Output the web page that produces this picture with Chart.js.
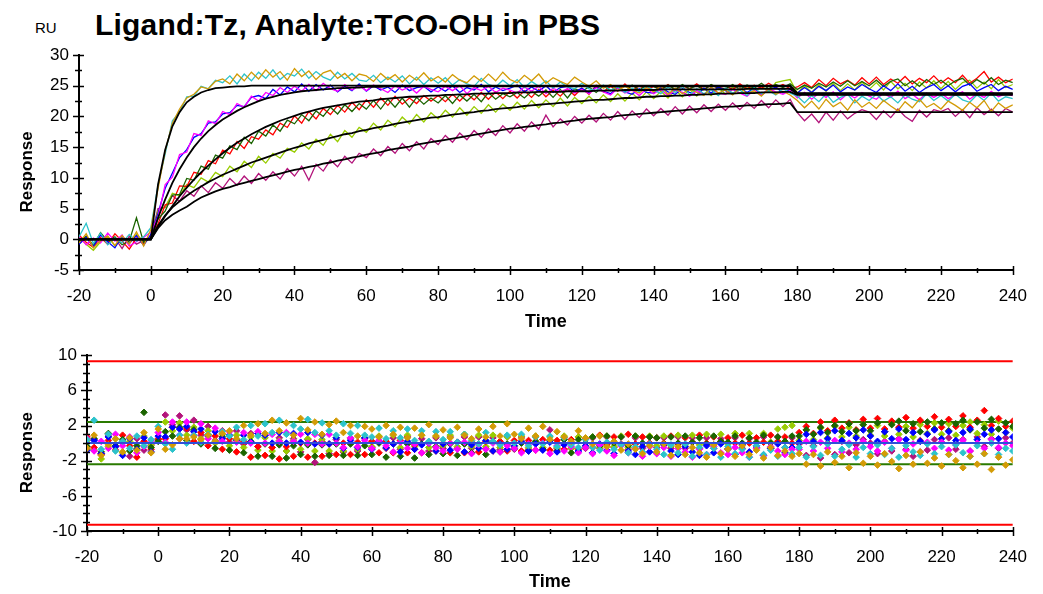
<!DOCTYPE html>
<html>
<head>
<meta charset="utf-8">
<script src="https://cdn.jsdelivr.net/npm/chart.js@4.4.1/dist/chart.umd.min.js"></script>
<style>
    body { margin: 0; background: #fff; width: 1043px; height: 594px; position: relative; overflow: hidden;
           font-family: "Liberation Sans", Arial, sans-serif; color: #000; }
    #ru { position: absolute; left: 35px; top: 20px; font-size: 15px; line-height: 15px; }
    #titulo { position: absolute; left: 95px; top: 10px; font-size: 30px; line-height: 30px; font-weight: bold; white-space: nowrap; letter-spacing: 0.2px; }
    #sensograma { position: absolute; left: 0; top: 0; }
    #residuos { position: absolute; left: 0; top: 335px; }
</style>
</head>
<body>
<div id="ru">RU</div>
<div id="titulo">Ligand:Tz, Analyte:TCO-OH in PBS</div>
<canvas id="sensograma" width="1043" height="335"></canvas>
<canvas id="residuos" width="1043" height="259"></canvas>
<script>
// Tiempos de muestreo (s)
const times = [-20,-18,-16,-14,-12,-10,-8,-6,-4,-2,
    0,2,4,6,8,10,12,14,16,18,
    20,22,24,26,28,30,32,34,36,38,
    40,42,44,46,48,50,52,54,56,58,
    60,62,64,66,68,70,72,74,76,78,
    80,82,84,86,88,90,92,94,96,98,
    100,102,104,106,108,110,112,114,116,118,
    120,122,124,126,128,130,132,134,136,138,
    140,142,144,146,148,150,152,154,156,158,
    160,162,164,166,168,170,172,174,176,178,
    180,182,184,186,188,190,192,194,196,198,
    200,202,204,206,208,210,212,214,216,218,
    220,222,224,226,228,230,232,234,236,238,240];

const goldData = [-0.6,0.9,-1.4,-0.2,0.5,-1.0,0.6,-0.8,1.2,-1.1,
    1.6,8.2,14.4,18.9,21.2,23.0,23.6,24.8,24.5,25.7,
    26.1,25.3,26.9,25.8,27.2,26.1,27.6,26.4,27.3,25.9,
    27.8,26.5,27.4,26.0,27.1,27.5,26.2,27.0,25.8,26.9,
    26.6,25.7,27.0,26.0,26.8,25.6,26.7,25.9,27.1,25.8,
    26.5,25.6,26.8,25.9,25.5,26.6,25.7,26.9,25.8,27.2,
    26.0,25.5,26.7,25.8,26.9,25.4,26.3,25.7,25.2,26.4,
    25.6,24.9,25.8,24.6,25.2,24.2,24.9,24.3,23.8,24.7,
    24.0,24.9,23.6,24.6,23.7,24.5,23.9,23.4,24.8,23.8,
    24.3,23.5,24.7,23.7,24.2,23.3,24.5,23.6,24.1,23.5,
    22.6,21.4,22.5,21.2,22.8,21.6,22.3,21.0,22.7,21.5,
    22.3,21.3,22.6,21.7,20.9,22.4,21.4,22.8,21.5,22.1,
    21.2,22.5,21.8,21.0,22.3,21.4,22.6,20.8,22.2,21.3,21.9];
const cyanData = [0.4,2.6,-0.7,1.0,-0.9,0.2,-0.6,0.8,-0.3,0.4,
    1.9,8.8,13.9,19.3,20.7,23.2,23.3,24.9,24.5,25.9,
    25.5,26.6,25.3,26.9,25.8,27.2,26.2,27.6,26.0,27.0,
    26.6,27.7,26.2,27.3,26.4,25.9,27.2,26.1,27.0,25.9,
    25.7,26.7,25.5,26.4,25.6,26.6,25.3,26.4,25.2,26.3,
    25.4,26.3,25.1,26.0,25.3,24.9,26.2,25.2,24.8,25.9,
    25.0,26.0,24.7,25.7,24.9,25.8,24.6,25.6,24.8,24.5,
    25.4,24.5,24.2,25.1,24.3,24.8,23.9,24.6,24.0,24.9,
    24.3,23.7,24.8,23.9,24.9,23.5,24.5,23.7,24.4,23.4,
    24.6,23.8,24.3,23.4,24.7,23.7,24.2,23.5,24.5,23.8,
    23.3,22.2,23.4,22.4,23.7,22.3,23.1,23.6,22.2,23.3,
    22.6,23.6,22.5,23.2,22.2,23.5,22.8,22.4,23.7,22.6,
    23.4,22.5,23.6,22.7,22.3,23.5,22.6,23.8,22.5,23.2,22.9];
const blueData = [-0.8,0.3,-1.2,0.7,-0.4,-1.4,0.5,-0.7,0.6,-1.0,
    0.8,4.2,8.3,10.8,13.3,14.6,16.6,17.2,18.9,19.1,
    20.4,20.6,21.8,21.6,23.1,23.4,22.9,24.4,23.5,24.8,
    24.0,25.3,24.1,25.2,24.3,25.1,24.0,24.9,24.2,25.3,
    24.1,25.0,24.3,24.8,23.9,25.1,24.2,24.7,24.9,24.0,
    24.8,24.1,25.0,23.9,24.7,24.3,25.2,24.0,24.8,24.2,
    24.6,25.1,24.0,24.8,24.1,25.0,23.9,24.7,24.9,24.0,
    24.6,23.8,24.8,24.1,23.7,24.7,24.0,23.6,24.5,23.9,
    23.8,24.7,24.0,23.6,24.5,23.9,23.5,24.6,23.8,24.8,
    24.2,23.6,24.7,23.9,24.6,23.5,24.3,24.8,23.8,24.4,
    23.8,24.7,23.9,24.9,24.2,25.1,24.0,24.8,24.3,25.2,
    24.5,23.9,25.0,24.2,25.3,24.1,24.9,23.9,24.7,25.2,
    24.2,25.0,24.0,24.9,25.3,24.1,24.7,25.2,24.2,24.9,24.4];
const magentaData = [0.5,-0.9,0.2,-0.6,1.0,-0.3,0.7,-1.1,-0.4,0.3,
    1.2,3.6,8.9,10.1,13.8,14.2,17.2,16.9,19.3,18.8,
    20.8,20.3,22.1,21.5,23.3,22.5,23.9,23.4,24.7,23.9,
    24.9,24.1,25.2,24.2,25.4,24.5,24.1,25.2,24.3,25.0,
    24.2,25.1,24.5,23.9,25.0,24.3,24.8,23.8,24.9,24.4,
    24.0,24.9,24.2,25.0,23.7,24.7,24.2,24.9,23.9,24.6,
    24.3,23.8,24.8,24.1,24.9,23.7,24.6,24.0,24.5,23.8,
    24.4,23.7,24.7,24.0,23.5,24.6,23.8,24.3,23.4,24.5,
    23.7,24.4,23.4,24.3,23.9,23.3,24.2,23.6,24.5,23.8,
    23.6,24.4,23.8,23.3,24.3,23.5,24.5,24.0,23.6,24.2,
    23.0,23.9,22.8,23.8,23.1,24.0,22.7,23.7,23.0,23.9,
    23.3,22.8,23.8,23.1,24.1,22.9,23.6,22.7,23.8,23.1,
    23.8,22.9,23.5,24.0,22.8,23.7,23.1,24.1,23.2,23.7,23.4];
const redData = [0.7,-0.5,-1.3,0.3,-0.8,0.9,-0.3,-1.6,0.2,-0.7,
    0.4,2.5,5.6,5.9,8.7,8.6,10.9,10.6,12.8,12.3,
    14.5,13.9,15.9,14.8,16.7,16.3,17.8,17.0,18.9,18.2,
    20.1,18.9,20.8,19.6,21.3,20.3,21.8,20.7,22.3,21.1,
    22.7,21.5,23.0,21.8,23.3,22.0,23.0,22.1,23.4,22.5,
    23.4,22.4,23.6,22.5,23.7,22.7,23.9,22.8,24.0,22.9,
    24.1,23.0,24.2,23.1,24.4,23.2,24.3,23.3,24.5,23.4,
    24.6,23.6,25.1,24.0,24.9,24.1,25.3,24.2,25.0,24.3,
    24.9,24.4,25.2,24.3,25.0,24.5,25.3,24.4,25.1,24.6,
    25.0,24.4,25.3,24.5,25.1,24.6,25.4,24.7,25.2,24.5,
    24.8,25.5,24.7,26.0,25.0,26.2,25.3,25.9,25.1,26.3,
    25.3,26.4,25.2,26.1,25.4,26.5,25.3,26.2,25.5,26.6,
    25.4,26.3,25.5,26.7,25.4,26.2,27.3,25.6,26.4,25.5,26.1];
const greenData = [-0.4,0.5,-1.0,1.1,-0.3,0.4,-0.9,-0.3,3.5,-0.5,
    0.2,3.3,4.6,7.2,7.3,9.9,9.6,11.9,11.4,13.7,
    13.2,15.2,14.6,16.6,15.6,17.6,16.8,18.6,17.6,19.4,
    18.8,20.3,19.3,20.9,20.0,21.5,20.4,21.9,20.8,22.1,
    21.2,22.6,21.2,22.8,21.5,23.0,21.5,23.1,22.0,23.0,
    22.2,23.4,22.1,23.5,22.5,23.6,22.4,23.9,22.8,23.7,
    23.2,23.9,23.0,24.1,23.3,24.3,23.1,24.4,23.0,24.5,
    24.1,24.8,23.9,25.0,24.2,24.9,24.0,25.1,24.3,25.0,
    24.9,24.3,25.1,24.4,25.2,24.5,25.0,24.3,25.2,24.6,
    24.5,25.2,24.4,25.1,24.6,25.4,24.5,25.2,24.7,25.3,
    24.4,25.1,24.6,25.4,24.8,25.6,24.9,25.8,25.0,25.7,
    25.0,25.9,24.9,25.7,26.1,25.0,25.8,24.9,26.0,25.2,
    25.9,25.0,25.8,26.2,25.1,26.0,25.3,26.3,25.2,25.9,25.5];
const limeData = [0.3,-0.8,-1.8,-0.4,0.5,-1.1,0.2,-0.6,0.8,-0.3,
    0.4,4.6,5.3,7.5,7.1,8.9,8.4,10.0,9.3,10.9,
    10.2,11.9,11.0,12.7,11.7,13.5,12.4,14.0,13.2,14.8,
    14.2,15.7,14.7,16.3,15.3,17.1,15.9,17.7,16.6,18.2,
    17.4,18.9,17.8,19.4,18.3,19.9,18.8,20.3,19.1,20.6,
    19.6,21.0,19.9,21.4,20.2,21.6,20.5,21.9,20.7,22.0,
    21.0,22.3,21.2,22.6,21.4,22.7,21.6,23.0,21.7,23.1,
    22.1,23.3,22.2,23.5,22.4,23.7,22.5,23.8,22.7,24.0,
    22.9,24.1,23.0,24.3,23.2,24.4,23.3,24.6,23.4,24.7,
    23.6,24.8,23.7,24.9,23.8,25.0,24.0,25.5,25.8,26.0,
    23.8,25.0,23.9,25.2,24.1,25.4,24.2,25.3,24.3,25.6,
    24.4,25.5,24.3,25.7,24.5,25.4,24.2,25.6,24.6,25.8,
    24.5,25.7,24.4,25.5,25.9,24.6,25.6,24.5,26.0,24.7,25.2];
const plumData = [-0.7,0.4,-1.2,0.8,-0.4,0.2,-1.5,0.5,-0.8,-0.2,
    0.5,5.0,5.2,7.1,6.2,7.9,7.0,8.7,7.6,9.2,
    8.3,9.9,8.8,10.3,9.1,10.7,9.6,11.0,9.8,11.5,
    10.3,11.9,9.6,12.2,11.1,12.9,11.8,13.5,12.4,14.0,
    13.3,14.7,13.6,15.1,14.0,15.6,14.4,15.9,14.7,16.4,
    15.4,16.9,15.8,17.3,16.2,17.7,16.6,18.0,16.9,18.5,
    17.3,18.8,17.6,19.1,17.9,20.2,18.3,19.6,18.6,20.0,
    18.9,20.2,19.1,20.5,19.4,20.8,19.5,20.9,19.8,21.2,
    20.1,21.3,20.2,21.6,20.4,21.7,20.6,21.9,20.8,22.0,
    21.0,22.2,21.1,22.3,21.3,22.6,21.4,22.7,21.6,22.8,
    20.6,19.3,20.4,19.0,20.7,19.4,20.9,19.6,20.5,21.1,
    20.7,19.5,20.9,19.8,21.2,20.0,19.2,21.0,19.9,21.1,
    20.8,21.3,20.0,21.1,19.8,21.4,20.3,21.2,20.1,21.3,20.7];

// Curvas de ajuste (RU) en los mismos tiempos
const fitFast = [0,0,0,0,0,0,0,0,0,0,
    0,8.9,14.6,18.4,20.7,22.3,23.2,23.9,24.3,24.6,
    24.7,24.8,24.9,24.9,25,25,25,25,25,25,
    25,25,25,25,25,25,25,25,25,25,
    25,25,25,25,25,25,25,25,25,25,
    25,25,25,25,25,25,25,25,25,25,
    25,25,25,25,25,25,25,25,25,25,
    25,25,25,25,25,25,25,25,25,25,
    25,25,25,25,25,25,25,25,25,25,
    25,25,25,25,25,25,25,25,25,25,
    23.8,23.8,23.8,23.8,23.8,23.8,23.8,23.8,23.8,23.8,
    23.8,23.8,23.8,23.8,23.8,23.8,23.8,23.8,23.8,23.8,
    23.8,23.8,23.8,23.8,23.8,23.8,23.8,23.8,23.8,23.8,23.8];
const fitMid = [0,0,0,0,0,0,0,0,0,0,
    0,3.5,6.5,9.2,11.4,13.3,15,16.4,17.6,18.6,
    19.5,20.2,20.9,21.5,22,22.5,22.9,23.2,23.5,23.7,
    23.9,24.1,24.2,24.3,24.4,24.5,24.6,24.6,24.7,24.7,
    24.8,24.8,24.8,24.9,24.9,24.9,24.9,24.9,24.9,24.9,
    24.9,24.9,24.9,24.9,24.9,24.9,24.9,24.9,24.9,24.9,
    24.9,24.9,24.9,24.9,24.9,24.9,24.9,24.9,24.9,24.9,
    24.9,24.9,24.9,24.9,24.9,24.9,24.9,24.9,24.9,24.9,
    24.9,24.9,24.9,24.9,24.9,24.9,24.9,24.9,24.9,24.9,
    24.9,24.9,24.9,24.9,24.9,24.9,24.9,24.9,24.9,24.9,
    23.7,23.7,23.7,23.7,23.7,23.7,23.7,23.7,23.7,23.7,
    23.7,23.7,23.7,23.7,23.7,23.7,23.7,23.7,23.7,23.7,
    23.7,23.7,23.7,23.7,23.7,23.7,23.7,23.7,23.7,23.7,23.7];
const fitSlow = [0,0,0,0,0,0,0,0,0,0,
    0,2,3.8,5.4,7,8.4,9.7,10.9,12,13,
    14,14.9,15.7,16.4,17.1,17.7,18.3,18.8,19.3,19.7,
    20.1,20.5,20.8,21.1,21.4,21.6,21.8,22,22.2,22.4,
    22.5,22.6,22.8,22.9,23,23.1,23.2,23.2,23.3,23.4,
    23.4,23.5,23.5,23.6,23.6,23.7,23.7,23.7,23.8,23.8,
    23.8,23.9,23.9,23.9,24,24,24,24,24.1,24.1,
    24.1,24.1,24.2,24.2,24.2,24.2,24.3,24.3,24.3,24.3,
    24.3,24.4,24.4,24.4,24.4,24.4,24.4,24.4,24.4,24.4,
    24.4,24.4,24.4,24.5,24.5,24.5,24.5,24.5,24.5,24.5,
    23.6,23.6,23.6,23.6,23.6,23.6,23.6,23.6,23.6,23.6,
    23.6,23.6,23.6,23.6,23.6,23.6,23.6,23.6,23.6,23.6,
    23.6,23.6,23.6,23.6,23.6,23.6,23.6,23.6,23.6,23.6,23.6];
const fitSlower = [0,0,0,0,0,0,0,0,0,0,
    0,2.2,3.9,5.2,6.2,7.1,7.9,8.6,9.3,9.9,
    10.5,11,11.5,12,12.5,12.9,13.3,13.7,14.1,14.5,
    14.9,15.2,15.6,15.9,16.2,16.5,16.8,17.1,17.3,17.6,
    17.8,18.1,18.3,18.5,18.8,19,19.2,19.4,19.6,19.8,
    19.9,20.1,20.3,20.4,20.6,20.7,20.9,21,21.2,21.3,
    21.4,21.5,21.7,21.8,21.9,22,22.1,22.2,22.3,22.4,
    22.5,22.6,22.7,22.7,22.8,22.9,23,23,23.1,23.2,
    23.2,23.3,23.3,23.4,23.4,23.5,23.5,23.6,23.6,23.7,
    23.7,23.7,23.8,23.8,23.8,23.9,23.9,23.9,24,24,
    23.5,23.5,23.5,23.5,23.5,23.5,23.5,23.5,23.5,23.5,
    23.5,23.5,23.5,23.5,23.5,23.5,23.5,23.5,23.5,23.5,
    23.5,23.5,23.5,23.5,23.5,23.5,23.5,23.5,23.5,23.5,23.5];
const fitSlowest = [0,0,0,0,0,0,0,0,0,0,
    0,1.8,3.1,4,4.7,5.3,6.1,6.8,7.3,7.8,
    8.2,8.5,8.9,9.2,9.5,9.8,10.1,10.4,10.7,11,
    11.3,11.5,11.8,12,12.3,12.5,12.8,13,13.3,13.5,
    13.8,14,14.2,14.5,14.7,14.9,15.1,15.4,15.6,15.8,
    16,16.2,16.4,16.6,16.8,17,17.2,17.4,17.6,17.8,
    18,18.1,18.3,18.4,18.6,18.7,18.9,19,19.2,19.3,
    19.5,19.6,19.7,19.8,19.9,20.1,20.2,20.3,20.4,20.5,
    20.6,20.7,20.8,20.9,21,21.1,21.2,21.3,21.4,21.5,
    21.6,21.6,21.7,21.8,21.8,21.9,22,22,22.1,22.2,
    20.7,20.7,20.7,20.7,20.7,20.7,20.7,20.7,20.7,20.7,
    20.7,20.7,20.7,20.7,20.7,20.7,20.7,20.7,20.7,20.7,
    20.7,20.7,20.7,20.7,20.7,20.7,20.7,20.7,20.7,20.7,20.7];

// Limites del grafico de residuos
const limitTimes = [-20, 240];
const outerLimit = 9.3;
const innerLimit = 2.4;

const fuente = "'Liberation Sans', Arial, sans-serif";
Chart.defaults.font.family = fuente;
Chart.defaults.color = '#000';

/**
 * Funcion marcasCruzadas
 * Devuelve un plugin que dibuja las marcas de los ejes cruzando la linea del eje
 */
function marcasCruzadas(xMayor, xMenor, yMayor, yMenor) {
    return {
        id: 'marcasCruzadas',
        afterDraw(chart) {
            const ctx = chart.ctx;
            ctx.save();
            ctx.strokeStyle = '#000';
            ctx.lineWidth = 1.5;
            ctx.beginPath();
            [['x', xMayor, xMenor], ['y', yMayor, yMenor]].forEach(function (eje) {
                const s = chart.scales[eje[0]];
                const n = Math.round((s.max - s.min) / eje[2]);
                for (let i = 0; i <= n; i++) {
                    const d = i * eje[2] / eje[1];
                    const esMayor = Math.abs(d - Math.round(d)) < 1e-6;
                    const p = Math.round(s.getPixelForValue(s.min + i * eje[2])) + 0.5;
                    if (eje[0] === 'x') {
                        const h = esMayor ? 4 : 2;
                        ctx.moveTo(p, s.top - h);
                        ctx.lineTo(p, s.top + h + 1);
                    } else {
                        const h = esMayor ? 5 : 3;
                        ctx.moveTo(s.right - h - 1, p);
                        ctx.lineTo(s.right + h, p);
                    }
                }
            });
            ctx.stroke();
            ctx.restore();
        }
    };
}

function ejeX(alto, pb) {
    return {
        type: 'linear', min: -20, max: 240,
        ticks: { stepSize: 20, padding: 16, maxRotation: 0, autoSkip: false, font: { size: 17 } },
        grid: { display: false, drawTicks: false },
        border: { display: true, color: '#000', width: 2 },
        title: { display: true, text: 'Time', font: { size: 18, weight: 'bold' }, padding: { top: 0, bottom: pb } },
        afterFit: function (s) { s.height = alto; }
    };
}

function ejeY(min, max, paso, ancho) {
    return {
        min: min, max: max,
        ticks: { stepSize: paso, padding: 10, autoSkip: false, font: { size: 17 } },
        grid: { display: false, drawTicks: false },
        border: { display: true, color: '#000', width: 2 },
        title: { display: true, text: 'Response    ', font: { size: 17, weight: 'bold' }, padding: { top: 17, bottom: 0 } },
        afterFit: function (s) { s.width = ancho; }
    };
}

function serie(valores, color, ancho) {
    return {
        data: valores.map((v, i) => ({ x: times[i], y: v })),
        borderColor: color, borderWidth: ancho, pointRadius: 0, tension: 0, fill: false
    };
}

function residuo(valores, ajuste, color) {
    return {
        data: valores.map((v, i) => ({ x: times[i], y: Math.round((v - ajuste[i]) * 100) / 100 })),
        showLine: false, pointStyle: 'rectRot', pointRadius: 3.3, borderWidth: 1,
        borderColor: color, backgroundColor: color
    };
}

function linea(valor, color) {
    return {
        data: limitTimes.map(t => ({ x: t, y: valor })),
        borderColor: color, borderWidth: 2, pointRadius: 0, showLine: true
    };
}

const colores = {
    gold: '#d39b06', cyan: '#2cc3cb', blue: '#0000ff', magenta: '#ff00ff',
    red: '#ff0000', green: '#1b6400', lime: '#98cc00', plum: '#b3147b'
};

const comunes = {
    responsive: false, animation: false, events: [],
    plugins: { legend: { display: false }, tooltip: { enabled: false } }
};

// Sensograma con ajustes
new Chart(document.getElementById('sensograma'), {
    type: 'line',
    data: {
        datasets: [
            serie(fitFast, '#000', 1.8), serie(fitMid, '#000', 1.8), serie(fitSlow, '#000', 1.8),
            serie(fitSlower, '#000', 1.8), serie(fitSlowest, '#000', 1.8),
            serie(goldData, colores.gold, 1.3), serie(cyanData, colores.cyan, 1.3),
            serie(magentaData, colores.magenta, 1.3), serie(blueData, colores.blue, 1.3),
            serie(greenData, colores.green, 1.3), serie(redData, colores.red, 1.3),
            serie(limeData, colores.lime, 1.3), serie(plumData, colores.plum, 1.3)
        ]
    },
    options: Object.assign({}, comunes, {
        layout: { padding: { top: 55, right: 18, left: 0, bottom: 0 } },
        scales: { x: ejeX(65, 2), y: ejeY(-5, 30, 5, 79) }
    }),
    plugins: [marcasCruzadas(20, 10, 5, 2.5)]
});

// Residuos
new Chart(document.getElementById('residuos'), {
    type: 'scatter',
    data: {
        datasets: [
            linea(0, '#2f4fd8'),
            residuo(goldData, fitFast, colores.gold), residuo(cyanData, fitFast, colores.cyan),
            residuo(magentaData, fitMid, colores.magenta), residuo(blueData, fitMid, colores.blue),
            residuo(greenData, fitSlow, colores.green), residuo(redData, fitSlow, colores.red),
            residuo(limeData, fitSlower, colores.lime), residuo(plumData, fitSlowest, colores.plum),
            linea(innerLimit, '#2a7a00'), linea(-innerLimit, '#2a7a00'),
            linea(outerLimit, '#ff0000'), linea(-outerLimit, '#ff0000')
        ]
    },
    options: Object.assign({}, comunes, {
        layout: { padding: { top: 10, right: 17, left: 0, bottom: 0 } },
        scales: { x: ejeX(63, 1), y: ejeY(-10, 10, 4, 87) }
    }),
    plugins: [marcasCruzadas(20, 10, 4, 1)]
});
</script>
</body>
</html>
